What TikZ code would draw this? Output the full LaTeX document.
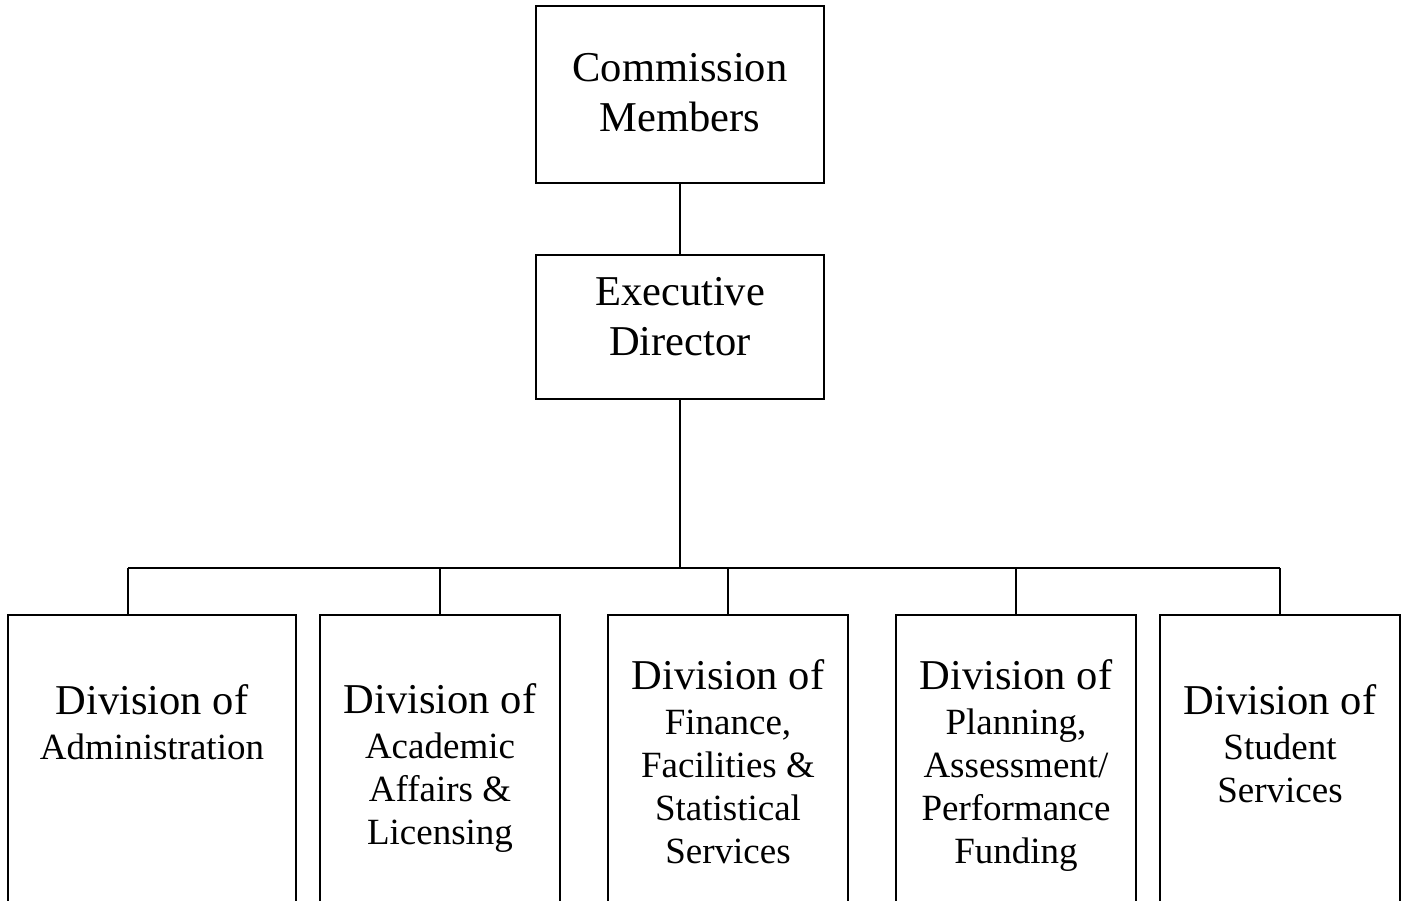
\documentclass[tikz,border=0pt]{standalone}
\usepackage{fontspec}
\setmainfont{Liberation Serif}
\newcommand{\bigf}{\fontsize{42.5}{50}\selectfont}
\newcommand{\smallf}{\fontsize{37}{43}\selectfont}
\begin{document}
\begin{tikzpicture}[x=1pt,y=-1pt,
  box/.style={draw,line width=1.6pt,inner sep=0pt,outer sep=0pt,anchor=north west},
  txt/.style={align=center,inner sep=0pt},
  wire/.style={line width=1.6pt}]
\useasboundingbox (0,0) rectangle (1403,901);
\clip (0,0) rectangle (1403,901);
% top boxes
\node[box,minimum width=288,minimum height=177] (cm) at (536,6) {};
\node[txt,font=\bigf] (cmt) at (680,93) {Commission\\Members};
\node[box,minimum width=288,minimum height=144] (ed) at (536,255) {};
\node[txt,font=\bigf] (edt) at (680,317) {Executive\\Director};
% division boxes
\node[box,minimum width=288,minimum height=340] (d1) at (8,615) {};
\node[box,minimum width=240,minimum height=340] (d2) at (320,615) {};
\node[box,minimum width=240,minimum height=340] (d3) at (608,615) {};
\node[box,minimum width=240,minimum height=340] (d4) at (896,615) {};
\node[box,minimum width=240,minimum height=340] (d5) at (1160,615) {};
\node[txt,font=\smallf] (t1) at (152,722) {{\bigf Division of}\\[2pt]Administration};
\node[txt,font=\smallf] (t2) at (440,768) {{\bigf Division of}\\[2pt]Academic\\Affairs \&\\Licensing};
\node[txt,font=\smallf] (t3) at (728,762) {{\bigf Division of}\\[2pt]Finance,\\Facilities \&\\Statistical\\Services};
\node[txt,font=\smallf] (t4) at (1016,766) {{\bigf Division of}\\[2pt]Planning,\\Assessment/\\Performance\\Funding};
\node[txt,font=\smallf] (t5) at (1280,743.5) {{\bigf Division of}\\[2pt]Student\\Services};
% connectors
\coordinate (bus) at (680,568);
\draw[wire] (cm.south) -- (ed.north);
\draw[wire] (ed.south) -- (bus);
\draw[wire] (128,568) coordinate (bl) -- (1280,568) coordinate (br);
\draw[wire] (bl) -- (bl |- d1.north);
\draw[wire] (440,568) -- (d2.north);
\draw[wire] (728,568) -- (d3.north);
\draw[wire] (1016,568) -- (d4.north);
\draw[wire] (br) -- (d5.north);
\end{tikzpicture}
\end{document}
